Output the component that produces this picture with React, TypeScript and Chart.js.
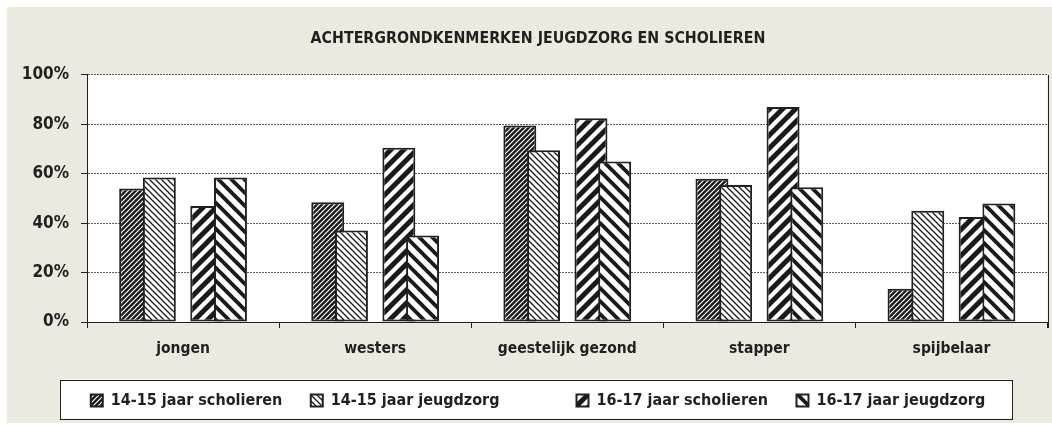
import React, { useEffect, useRef } from 'react';
import { Chart, registerables } from 'chart.js';

Chart.register(...registerables);

const categories = ['jongen', 'westers', 'geestelijk gezond', 'stapper', 'spijbelaar'];
const seriesLabels = ['14-15 jaar scholieren', '14-15 jaar jeugdzorg', '', '16-17 jaar scholieren', '16-17 jaar jeugdzorg'];
const scholieren1415 = [54, 48.5, 79.5, 58, 13.5];
const jeugdzorg1415 = [58.5, 37, 69.5, 55.5, 45];
const spacer = [null, null, null, null, null];
const scholieren1617 = [47, 70.5, 82.5, 87, 42.5];
const jeugdzorg1617 = [58.5, 35, 65, 54.5, 48];
const yTicks = [0, 20, 40, 60, 80, 100];
const titleText = 'ACHTERGRONDKENMERKEN JEUGDZORG EN SCHOLIEREN';

const DARK = '#231f20';
const BEIGE = '#ece9e0';
const FONT = '"DejaVu Sans Condensed", "Liberation Sans Narrow", "DejaVu Sans", sans-serif';

function stripes(period: number, lineW: number, bg: string, fg: string, dir: '/' | '\\') {
  const c = document.createElement('canvas');
  c.width = period;
  c.height = period;
  const g = c.getContext('2d')!;
  g.fillStyle = bg;
  g.fillRect(0, 0, period, period);
  g.strokeStyle = fg;
  g.lineWidth = lineW;
  g.beginPath();
  const P = period;
  if (dir === '/') {
    for (const cc of [0, P, 2 * P]) {
      g.moveTo(cc + P, -P);
      g.lineTo(cc - 2 * P, 2 * P);
    }
  } else {
    for (const cc of [-P, 0, P]) {
      g.moveTo(-P, cc - P);
      g.lineTo(2 * P, cc + 2 * P);
    }
  }
  g.stroke();
  return g.createPattern(c, 'repeat')!;
}

const drawOrderPlugin = {
  id: 'drawOrder',
  beforeDraw(chart: any) {
    const { ctx, chartArea } = chart;
    ctx.save();
    ctx.fillStyle = '#ffffff';
    ctx.fillRect(chartArea.left, chartArea.top, chartArea.right - chartArea.left, chartArea.bottom - chartArea.top);
    const lg = chart.legend;
    const hb = lg && lg.legendHitBoxes;
    if (hb && hb.length) {
      const first = hb[0];
      const last = hb[hb.length - 1];
      const cy = first.top + first.height / 2;
      const l = first.left - 31;
      const r = last.left + last.width + 27;
      const t = cy - 21;
      const b = cy + 18;
      ctx.fillStyle = '#ffffff';
      ctx.fillRect(l, t, r - l, b - t);
      ctx.strokeStyle = DARK;
      ctx.lineWidth = 1;
      ctx.strokeRect(Math.round(l) + 0.5, Math.round(t) + 0.5, Math.round(r - l), Math.round(b - t));
    }
    ctx.restore();
  },
  beforeDatasetsDraw(chart: any) {
    const n = chart.data.datasets.length;
    for (let i = 0; i < n; i++) {
      const meta = chart.getDatasetMeta(i);
      if (chart.isDatasetVisible(i)) meta.controller.draw();
    }
    return false;
  },
  afterDraw(chart: any) {
    const { ctx, chartArea } = chart;
    ctx.save();
    ctx.strokeStyle = DARK;
    ctx.lineWidth = 1;
    ctx.beginPath();
    const x = Math.round(chartArea.right) + 0.5;
    ctx.moveTo(x, chartArea.top);
    ctx.lineTo(x, chartArea.bottom + 6);
    ctx.stroke();
    ctx.restore();
  },
};

export default function App() {
  const ref = useRef<HTMLCanvasElement | null>(null);

  useEffect(() => {
    if (!ref.current) return;
    const p1 = stripes(5, 1.2, '#1a1a1a', '#ffffff', '/');
    const p2 = stripes(6, 1.3, '#ffffff', '#1a1a1a', '\\');
    const p3 = stripes(13, 4.2, '#1a1a1a', '#ffffff', '/');
    const p4 = stripes(13, 3.8, '#ffffff', '#1a1a1a', '\\');
    const common = {
      borderColor: DARK,
      borderWidth: 2,
      borderSkipped: false,
      categoryPercentage: 0.617,
      barPercentage: 1.39,
    };
    const legendPad = 28.5;
    const chart = new Chart(ref.current, {
      type: 'bar',
      data: {
        labels: categories,
        datasets: [
          { ...common, label: seriesLabels[0], data: scholieren1415, backgroundColor: p1 },
          { ...common, label: seriesLabels[1], data: jeugdzorg1415, backgroundColor: p2 },
          { ...common, label: seriesLabels[2], data: spacer, backgroundColor: 'rgba(0,0,0,0)', borderColor: 'rgba(0,0,0,0)', borderWidth: 0 },
          { ...common, label: seriesLabels[3], data: scholieren1617, backgroundColor: p3 },
          { ...common, label: seriesLabels[4], data: jeugdzorg1617, backgroundColor: p4 },
        ] as any,
      },
      options: {
        responsive: false,
        animation: false,
        devicePixelRatio: 1,
        layout: { padding: { left: 4, right: 0, top: 0, bottom: 4.5 } },
        plugins: {
          title: {
            display: true,
            text: titleText,
            color: DARK,
            font: { family: FONT, size: 15.8, weight: 'bold', lineHeight: 1.2 },
            padding: { top: 22.5, bottom: 26.5 },
          },
          legend: {
            display: true,
            position: 'bottom',
            labels: {
              color: DARK,
              font: { family: FONT, size: 16, weight: 'bold' },
              boxWidth: 12,
              boxHeight: 12,
              padding: legendPad,
            },
          },
          tooltip: { enabled: false },
        },
        scales: {
          x: {
            grid: {
              display: true,
              drawOnChartArea: false,
              drawTicks: true,
              tickLength: 6,
              tickColor: DARK,
              tickWidth: 1,
              offset: true,
            },
            border: { display: true, color: DARK, width: 1 },
            ticks: {
              color: DARK,
              font: { family: FONT, size: 15.5, weight: 'bold' },
              padding: 12,
              maxRotation: 0,
              autoSkip: false,
            },
            afterFit: (s: any) => {
              s.height = 385.5 - legendPad - 315;
            },
          },
          y: {
            min: 0,
            max: 100,
            afterBuildTicks: (s: any) => {
              s.ticks = yTicks.map((v) => ({ value: v }));
            },
            grid: {
              color: (c: any) => (c.tick && c.tick.value === 0 ? 'rgba(0,0,0,0)' : '#5f5f5f'),
              lineWidth: 1,
              drawTicks: true,
              tickLength: 6,
              tickColor: DARK,
              tickWidth: 1,
              tickBorderDash: [],
            },
            border: { display: true, color: DARK, width: 1, dash: [2, 1] },
            ticks: {
              color: DARK,
              font: { family: FONT, size: 17, weight: 'bold' },
              padding: 12,
              callback: (v: any) => v + '%',
            },
            afterFit: (s: any) => {
              s.width = 76;
            },
          },
          yRight: {
            position: 'right',
            display: true,
            min: 0,
            max: 100,
            grid: { display: false, drawTicks: false },
            border: { display: false },
            ticks: { display: false },
            afterFit: (s: any) => {
              s.width = 17.5;
            },
          },
        },
      },
      plugins: [drawOrderPlugin],
    } as any);
    return () => chart.destroy();
  }, []);

  return (
    <div
      style={{
        position: 'absolute',
        left: 7,
        top: 7,
        width: 1045,
        height: 416,
        overflow: 'hidden',
        background: BEIGE,
      }}
    >
      <canvas ref={ref} width={1058} height={416} style={{ display: 'block' }} />
    </div>
  );
}
